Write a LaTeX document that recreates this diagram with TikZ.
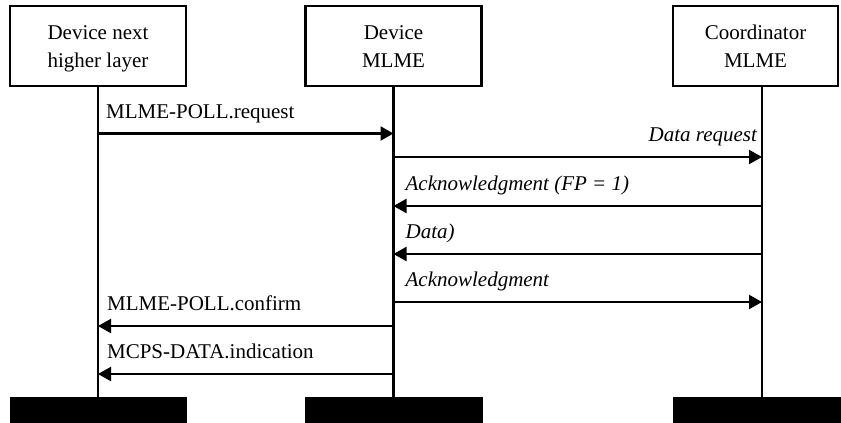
\documentclass[tikz,border=0pt]{standalone}
\usepackage{fontspec}
\setmainfont{Liberation Serif}
\usetikzlibrary{arrows.meta}

\newcommand{\boxstrut}{\rule[-6pt]{0pt}{26pt}}

\tikzset{
    entity/.style={draw,line width=2.4pt,minimum width=176pt,minimum height=80pt,
        inner sep=0pt,align=center,font=\fontsize{21}{28}\selectfont},
    endbar/.style={fill=black,draw=none,minimum width=177pt,minimum height=26pt,inner sep=0pt},
    life/.style={line width=2.4pt},
    msg/.style={line width=2.2pt,-{Triangle[length=13pt,width=14pt]}},
    lbl/.style={inner sep=0pt,font=\fontsize{21}{25}\selectfont},
    ilbl/.style={lbl,font=\fontsize{21}{25}\selectfont\itshape},
}

\begin{document}
\begin{tikzpicture}[x=1pt,y=-1pt]
        \useasboundingbox (0,0) rectangle (841,423);
        % participants
        \node[entity] (nhl) at (98,46) {\boxstrut Device next\\\boxstrut higher layer};
        \node[entity] (dev) at (393.5,46) {\boxstrut Device\\\boxstrut MLME};
        \node[entity,minimum width=165pt] (coord) at (755.5,46) {\boxstrut Coordinator\\\boxstrut MLME};
        \node[endbar] (nhl-end) at (98.5,410) {};
        \node[endbar,minimum width=178pt] (dev-end) at (394,410) {};
        \node[endbar,minimum width=168pt] (coord-end) at (757,410) {};
        %
        \coordinate (nhlL) at (nhl.south);
        \coordinate (devL) at (dev.south);
        \coordinate (coordL) at ([xshift=6.5pt]coord.south);
        \draw[life] (nhlL) -- (nhlL |- nhl-end.north);
        \draw[life] (devL) -- (devL |- dev-end.north);
        \draw[life] (coordL) -- (coordL |- coord-end.north);
        % messages
        \draw[msg] (nhlL |- 0,133.5) -- (devL |- 0,133.5)
            node[lbl,at start,anchor=base west,xshift=7pt,yshift=15.5pt] (req) {MLME-POLL.request};
        \draw[msg] (devL |- 0,157) -- (coordL |- 0,157)
            node[ilbl,at end,anchor=base east,xshift=-4pt,yshift=15.5pt] (dreq) {Data request};
        \draw[msg] (coordL |- 0,206) -- (devL |- 0,206)
            node[ilbl,at end,anchor=base west,xshift=11pt,yshift=15.5pt] (ackfp) {Acknowledgment (FP = 1)};
        \draw[msg] (coordL |- 0,254) -- (devL |- 0,254)
            node[ilbl,at end,anchor=base west,xshift=11pt,yshift=15.5pt] (data) {Data)};
        \draw[msg] (devL |- 0,302) -- (coordL |- 0,302)
            node[ilbl,at start,anchor=base west,xshift=11pt,yshift=15.5pt] (ack) {Acknowledgment};
        \draw[msg] (devL |- 0,326) -- (nhlL |- 0,326)
            node[lbl,at end,anchor=base west,xshift=8pt,yshift=15.5pt] (conf) {MLME-POLL.confirm};
        \draw[msg] (devL |- 0,374) -- (nhlL |- 0,374)
            node[lbl,at end,anchor=base west,xshift=8pt,yshift=15.5pt] (ind) {MCPS-DATA.indication};
    \end{tikzpicture}
\end{document}
